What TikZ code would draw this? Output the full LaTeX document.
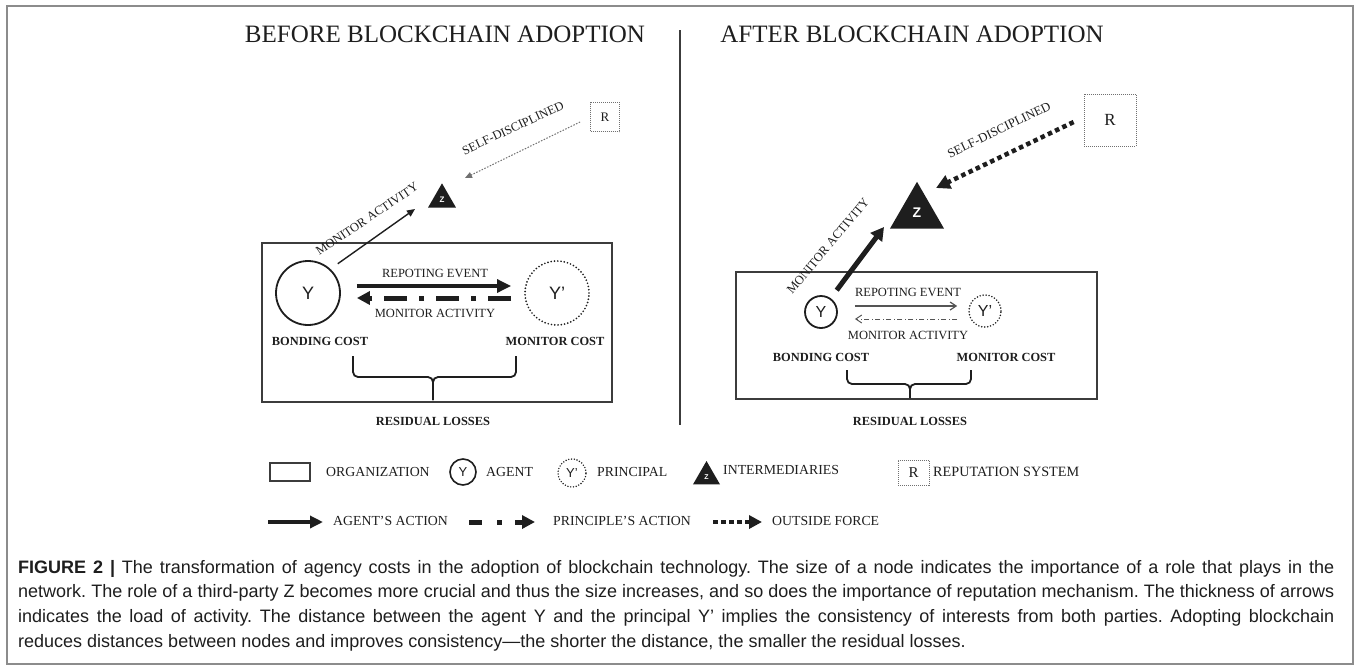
\documentclass[tikz,border=0pt]{standalone}
\usepackage{fontspec}
\setmainfont{Liberation Serif}
\newfontfamily\capfont{Liberation Sans}
\newfontfamily\symfont{Liberation Sans}
\usetikzlibrary{arrows.meta,calc,shapes.geometric}
\definecolor{ink}{HTML}{1E1E1E}
\definecolor{rule}{HTML}{3C3C3C}
\definecolor{framegray}{HTML}{8C8C8C}
\definecolor{dotgray}{HTML}{707070}
\definecolor{softink}{HTML}{555555}

\tikzset{
  heading/.style={font=\fontsize{25}{27}\selectfont, text=ink},
  lbl/.style={font=\fontsize{12.5}{14}\selectfont, text=ink, inner sep=0pt},
  costlbl/.style={font=\fontsize{12.4}{14}\selectfont\bfseries, text=ink, inner sep=0pt},
  legtxt/.style={font=\fontsize{13.8}{15}\selectfont, text=ink, anchor=west, inner sep=0pt},
  orgbox/.style={draw=rule, line width=1.4pt},
  agentnode/.style={circle, draw=ink, line width=1.8pt, inner sep=0pt, text=ink},
  principalnode/.style={circle, draw=ink, line width=1.9pt, dash pattern=on 0pt off 3.3pt, line cap=round, inner sep=0pt, text=ink},
  midnode/.style={regular polygon, regular polygon sides=3, fill=ink, inner sep=0pt, text=white},
  repbox/.style={draw=dotgray, line width=0.8pt, dash pattern=on 1pt off 1pt, inner sep=0pt, text=ink},
  bracepath/.style={draw=ink, line width=1.8pt, rounded corners=5pt},
}

\begin{document}
\begin{tikzpicture}[x=1pt,y=-1pt]
\useasboundingbox (0,0) rectangle (1360,670);
\fill[white] (0,0) rectangle (1360,670);
\draw[framegray, line width=1.5pt] (7,6) rectangle (1353,664);

% headings and the divider between the two states
\node[heading] (hb) at (445,34) {BEFORE BLOCKCHAIN ADOPTION};
\node[heading] (ha) at (912,34) {AFTER BLOCKCHAIN ADOPTION};
\draw[rule, line width=1.3pt] (680,30) -- (680,425);

% ---------------- before ----------------
\draw[orgbox] (262,243) rectangle (612,402);
\node[agentnode, minimum size=64pt, font=\symfont\fontsize{18}{18}\selectfont] (Yb) at (308,293) {Y};
\node[principalnode, minimum size=64pt, font=\symfont\fontsize{18}{18}\selectfont] (Ypb) at (557,293) {Y’};
\node[midnode, minimum size=32.3pt, font=\symfont\bfseries\fontsize{8}{8}\selectfont] (Zb) at (442,199.5) {Z};
\node[repbox, minimum size=29pt, font=\fontsize{13}{13}\selectfont] (Rb) at (605,117) {R};

\coordinate (mb1) at (415,209);
\coordinate (sdb) at (465,178);

\draw[ink, line width=3.2pt, -{Triangle[length=14pt,width=13pt]}]
  ($(Yb.east)+(16,-7)$) -- ($(Ypb.west)+(-13,-7)$);
\draw[ink, line width=5pt, dash pattern=on 23pt off 12pt on 5pt off 12pt, -{Triangle[length=13pt,width=13pt]}]
  ($(Ypb.west)+(-13,5)$) -- ($(Yb.east)+(16,5)$);
\draw[ink, line width=1.4pt, shorten <=9pt, -{Triangle[length=8pt,width=7pt]}] (Yb.47) -- (mb1);
\draw[dotgray, line width=1pt, dash pattern=on 1.5pt off 1.5pt, -{Triangle[length=7pt,width=6pt]}]
  ($(Rb.west)+(-10,5)$) -- (sdb);

\node[lbl] (reb) at (435,273) {REPOTING EVENT};
\node[lbl] (mab) at (435,313) {MONITOR ACTIVITY};
\node[lbl, rotate=34] (mdb) at (367,219) {MONITOR ACTIVITY};
\node[lbl, rotate=25] (sdlb) at (513,128) {SELF-DISCIPLINED};
\node[costlbl] (bcb) at (320,341) {BONDING COST};
\node[costlbl] (mcb) at (555,341) {MONITOR COST};
\draw[bracepath] (353,356) -- (353,377) -- (433,377) -- (433,400);
\draw[bracepath] (516,356) -- (516,377) -- (433,377) -- (433,400);
\node[costlbl] (rlb) at (433,421) {RESIDUAL LOSSES};

% ---------------- after ----------------
\draw[orgbox] (736,272) rectangle (1097,399);
\node[agentnode, minimum size=32pt, font=\symfont\fontsize{16}{16}\selectfont] (Ya) at (821,312) {Y};
\node[principalnode, minimum size=32pt, line width=1.7pt, dash pattern=on 0pt off 3pt, font=\symfont\fontsize{16}{16}\selectfont] (Ypa) at (985,311) {Y’};
\node[midnode, minimum size=62.4pt, font=\symfont\bfseries\fontsize{14}{14}\selectfont] (Za) at (917,213) {Z};
\node[repbox, minimum size=52pt, font=\fontsize{17}{17}\selectfont] (Ra) at (1110,120) {R};

\coordinate (ma1) at (884,227);
\coordinate (sda) at (936,188);

\draw[softink, line width=1.2pt, -{Straight Barb[length=6pt,width=8pt]}]
  ($(Ya.east)+(17,-6)$) -- ($(Ypa.west)+(-11,-5)$);
\draw[softink, line width=1pt, dash pattern=on 5pt off 2.5pt on 1pt off 2.5pt, -{Straight Barb[length=6pt,width=8pt]}]
  ($(Ypa.west)+(-11,8)$) -- ($(Ya.east)+(17,7)$);
\draw[ink, line width=5pt, shorten <=10pt, -{Triangle[length=13pt,width=14pt]}] (Ya.55) -- (ma1);
\draw[ink, line width=4.5pt, dash pattern=on 4.5pt off 3.5pt, -{Triangle[length=14pt,width=14pt]}]
  ($(Ra.west)+(-10,2)$) -- (sda);

\node[lbl] (rea) at (908,292) {REPOTING EVENT};
\node[lbl] (maa) at (908,335) {MONITOR ACTIVITY};
\node[lbl, rotate=50] (mda) at (828,246) {MONITOR ACTIVITY};
\node[lbl, font=\fontsize{12.8}{14}\selectfont, rotate=26] (sdla) at (999,130) {SELF-DISCIPLINED};
\node[costlbl] (bca) at (821,357) {BONDING COST};
\node[costlbl] (mca) at (1006,357) {MONITOR COST};
\draw[bracepath] (847,370) -- (847,384) -- (910,384) -- (910,398);
\draw[bracepath] (971,370) -- (971,384) -- (910,384) -- (910,398);
\node[costlbl] (rla) at (910,421) {RESIDUAL LOSSES};

% ---------------- legend ----------------
\draw[rule, line width=1.1pt] (270,463) rectangle (310,481);
\node[legtxt] (lg1) at (326,472) {ORGANIZATION};
\node[agentnode, minimum size=26pt, line width=1.6pt, font=\symfont\fontsize{13}{13}\selectfont] (lgY) at (463,472) {Y};
\node[legtxt] (lg2) at (486,472) {AGENT};
\node[principalnode, minimum size=28pt, line width=1.6pt, dash pattern=on 0pt off 2.8pt, font=\symfont\fontsize{13}{13}\selectfont] (lgYp) at (572,473) {Y’};
\node[legtxt] (lg3) at (597,472) {PRINCIPAL};
\node[midnode, minimum size=31.2pt, font=\symfont\bfseries\fontsize{7}{7}\selectfont] (lgZ) at (706.5,476.6) {Z};
\node[legtxt] (lg4) at (723,470) {INTERMEDIARIES};
\node[repbox, minimum width=31pt, minimum height=25pt, font=\fontsize{15}{15}\selectfont] (lgR) at (913.5,472.5) {R};
\node[legtxt, font=\fontsize{14.2}{15}\selectfont] (lg5) at (933,472) {REPUTATION SYSTEM};

\coordinate (la0) at (268,522);
\coordinate (la1) at (323,522);
\coordinate (lp0) at (469,522);
\coordinate (lp1) at (535,522);
\coordinate (lo0) at (713,522);
\coordinate (lo1) at (762,522);
\draw[ink, line width=3.5pt, -{Triangle[length=13pt,width=12pt]}] (la0) -- (la1);
\node[legtxt] (lg6) at (333,521) {AGENT’S ACTION};
\draw[ink, line width=5pt, dash pattern=on 13pt off 15pt on 5pt off 13pt on 30pt, -{Triangle[length=13pt,width=13pt]}] (lp0) -- (lp1);
\node[legtxt] (lg7) at (553,521) {PRINCIPLE’S ACTION};
\draw[ink, line width=4.5pt, dash pattern=on 4.5pt off 3.5pt, -{Triangle[length=13pt,width=13pt]}] (lo0) -- (lo1);
\node[legtxt] (lg8) at (772,521) {OUTSIDE FORCE};

% ---------------- caption ----------------
\node[anchor=north west, inner sep=0pt, text width=1316pt, align=justify, text=ink,
      font=\capfont\fontsize{18}{24.7}\selectfont] (cap) at (18,560)
{\frenchspacing\hyphenpenalty=10000\exhyphenpenalty=10000\noindent
\textbf{FIGURE 2 |} The transformation of agency costs in the adoption of blockchain technology. The size of a node indicates the importance of a role that plays in the\linebreak
network. The role of a third-party Z becomes more crucial and thus the size increases, and so does the importance of reputation mechanism. The thickness of arrows\linebreak
indicates the load of activity. The distance between the agent Y and the principal Y’ implies the consistency of interests from both parties. Adopting blockchain\linebreak
reduces distances between nodes and improves consistency—the shorter the distance, the smaller the residual losses.};
\end{tikzpicture}
\end{document}
